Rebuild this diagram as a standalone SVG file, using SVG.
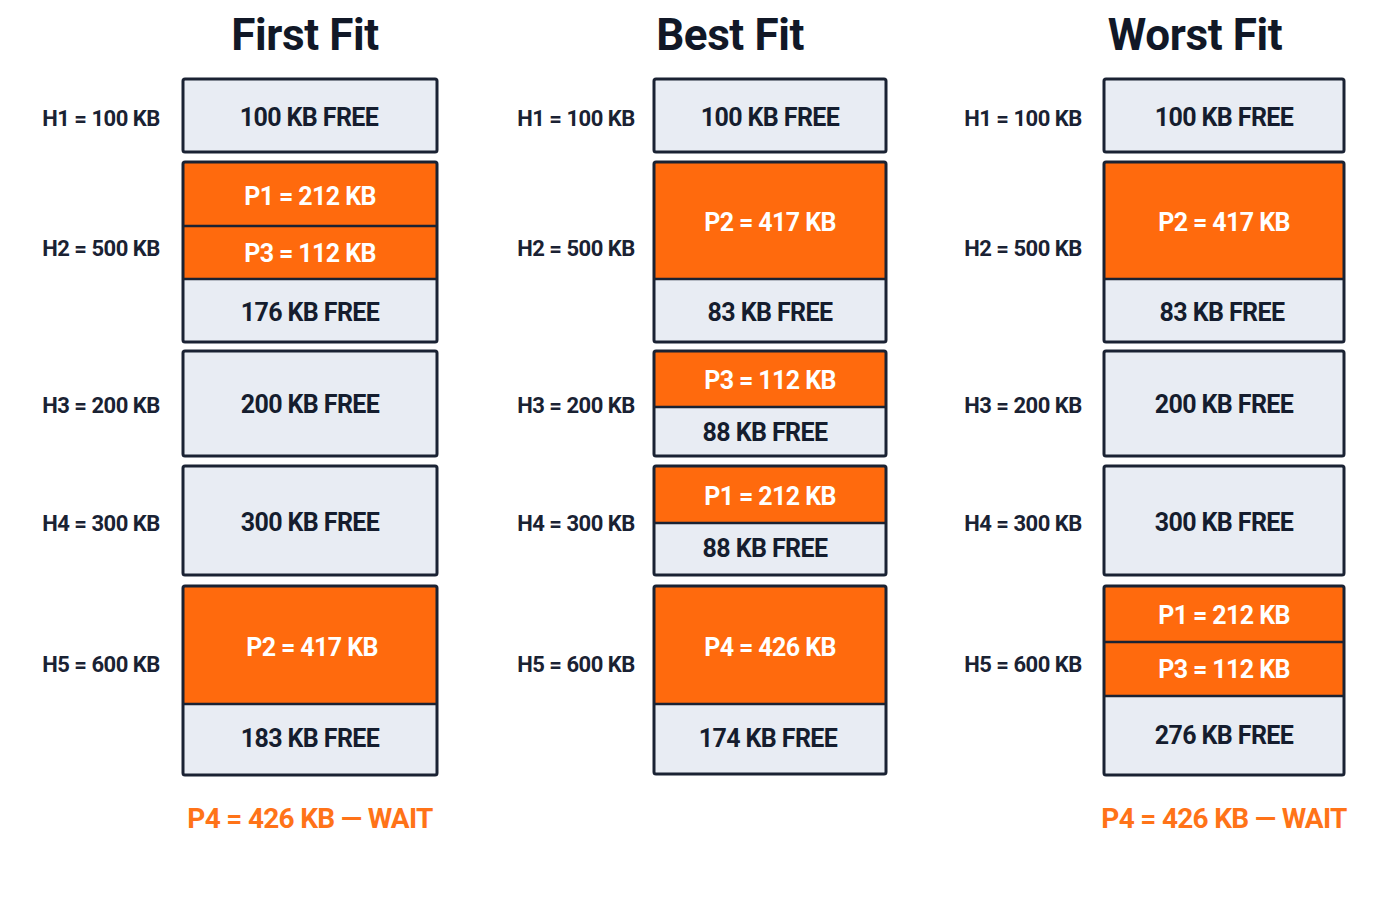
<svg xmlns="http://www.w3.org/2000/svg" width="1400" height="900" viewBox="0 0 1400 900">
<style>
text{font-family:Roboto,"Liberation Sans",sans-serif;font-weight:700;text-anchor:middle;dominant-baseline:central}
.title{font-size:44px;fill:#111827;letter-spacing:-0.4px}
.lbl{font-size:22px;fill:#1a2233;letter-spacing:-0.5px}
.ft{font-size:25px;fill:#151d2e;letter-spacing:-0.6px}
.pt{font-size:25px;fill:#ffffff;letter-spacing:-0.6px}
.wait{font-size:28px;fill:#ff7318;letter-spacing:-0.7px}
.free{fill:#e8ecf3}
.proc{fill:#ff6a0d}
.sep{stroke:#1a2233;stroke-width:2.5}
.frame{fill:none;stroke:#1a2233;stroke-width:3}
</style>
<rect width="1400" height="900" fill="#ffffff"/>
<g id="titles">
<text class="title" x="305" y="35">First Fit</text>
<text class="title" x="730" y="35">Best Fit</text>
<text class="title" x="1195" y="35">Worst Fit</text>
</g>
<g id="labels">
<text class="lbl" x="101" y="118">H1 = 100 KB</text>
<text class="lbl" x="101" y="248">H2 = 500 KB</text>
<text class="lbl" x="101" y="405">H3 = 200 KB</text>
<text class="lbl" x="101" y="523">H4 = 300 KB</text>
<text class="lbl" x="101" y="664">H5 = 600 KB</text>
<text class="lbl" x="576" y="118">H1 = 100 KB</text>
<text class="lbl" x="576" y="248">H2 = 500 KB</text>
<text class="lbl" x="576" y="405">H3 = 200 KB</text>
<text class="lbl" x="576" y="523">H4 = 300 KB</text>
<text class="lbl" x="576" y="664">H5 = 600 KB</text>
<text class="lbl" x="1023" y="118">H1 = 100 KB</text>
<text class="lbl" x="1023" y="248">H2 = 500 KB</text>
<text class="lbl" x="1023" y="405">H3 = 200 KB</text>
<text class="lbl" x="1023" y="523">H4 = 300 KB</text>
<text class="lbl" x="1023" y="664">H5 = 600 KB</text>
</g>
<!-- First Fit -->
<g id="ff-h1"><rect class="free" x="183" y="79" width="254" height="73"/><rect class="frame" x="183" y="79" width="254" height="73" rx="2"/><text class="ft" x="309" y="117">100 KB FREE</text></g>
<g id="ff-h2">
<rect class="proc" x="183" y="162" width="254" height="117"/><rect class="free" x="183" y="279" width="254" height="63"/>
<line class="sep" x1="183" y1="226" x2="437" y2="226"/><line class="sep" x1="183" y1="279" x2="437" y2="279"/>
<rect class="frame" x="183" y="162" width="254" height="180" rx="2"/>
<text class="pt" x="310" y="196">P1 = 212 KB</text><text class="pt" x="310" y="253">P3 = 112 KB</text><text class="ft" x="310" y="312">176 KB FREE</text></g>
<g id="ff-h3"><rect class="free" x="183" y="351" width="254" height="105"/><rect class="frame" x="183" y="351" width="254" height="105" rx="2"/><text class="ft" x="310" y="404">200 KB FREE</text></g>
<g id="ff-h4"><rect class="free" x="183" y="466" width="254" height="109"/><rect class="frame" x="183" y="466" width="254" height="109" rx="2"/><text class="ft" x="310" y="522">300 KB FREE</text></g>
<g id="ff-h5">
<rect class="proc" x="183" y="586" width="254" height="118"/><rect class="free" x="183" y="704" width="254" height="71"/>
<line class="sep" x1="183" y1="704" x2="437" y2="704"/>
<rect class="frame" x="183" y="586" width="254" height="189" rx="2"/>
<text class="pt" x="312" y="647">P2 = 417 KB</text><text class="ft" x="310" y="738">183 KB FREE</text></g>
<g id="ff-wait"><text class="wait" x="310" y="818">P4 = 426 KB — WAIT</text></g>
<!-- Best Fit -->
<g id="bf-h1"><rect class="free" x="654" y="79" width="232" height="73"/><rect class="frame" x="654" y="79" width="232" height="73" rx="2"/><text class="ft" x="770" y="117">100 KB FREE</text></g>
<g id="bf-h2">
<rect class="proc" x="654" y="162" width="232" height="117"/><rect class="free" x="654" y="279" width="232" height="63"/>
<line class="sep" x1="654" y1="279" x2="886" y2="279"/>
<rect class="frame" x="654" y="162" width="232" height="180" rx="2"/>
<text class="pt" x="770" y="222">P2 = 417 KB</text><text class="ft" x="770" y="312">83 KB FREE</text></g>
<g id="bf-h3">
<rect class="proc" x="654" y="351" width="232" height="56"/><rect class="free" x="654" y="407" width="232" height="49"/>
<line class="sep" x1="654" y1="407" x2="886" y2="407"/>
<rect class="frame" x="654" y="351" width="232" height="105" rx="2"/>
<text class="pt" x="770" y="380">P3 = 112 KB</text><text class="ft" x="765" y="432">88 KB FREE</text></g>
<g id="bf-h4">
<rect class="proc" x="654" y="466" width="232" height="57"/><rect class="free" x="654" y="523" width="232" height="52"/>
<line class="sep" x1="654" y1="523" x2="886" y2="523"/>
<rect class="frame" x="654" y="466" width="232" height="109" rx="2"/>
<text class="pt" x="770" y="496">P1 = 212 KB</text><text class="ft" x="765" y="548">88 KB FREE</text></g>
<g id="bf-h5">
<rect class="proc" x="654" y="586" width="232" height="118"/><rect class="free" x="654" y="704" width="232" height="70"/>
<line class="sep" x1="654" y1="704" x2="886" y2="704"/>
<rect class="frame" x="654" y="586" width="232" height="188" rx="2"/>
<text class="pt" x="770" y="647">P4 = 426 KB</text><text class="ft" x="768" y="738">174 KB FREE</text></g>
<!-- Worst Fit -->
<g id="wf-h1"><rect class="free" x="1104" y="79" width="240" height="73"/><rect class="frame" x="1104" y="79" width="240" height="73" rx="2"/><text class="ft" x="1224" y="117">100 KB FREE</text></g>
<g id="wf-h2">
<rect class="proc" x="1104" y="162" width="240" height="117"/><rect class="free" x="1104" y="279" width="240" height="63"/>
<line class="sep" x1="1104" y1="279" x2="1344" y2="279"/>
<rect class="frame" x="1104" y="162" width="240" height="180" rx="2"/>
<text class="pt" x="1224" y="222">P2 = 417 KB</text><text class="ft" x="1222" y="312">83 KB FREE</text></g>
<g id="wf-h3"><rect class="free" x="1104" y="351" width="240" height="105"/><rect class="frame" x="1104" y="351" width="240" height="105" rx="2"/><text class="ft" x="1224" y="404">200 KB FREE</text></g>
<g id="wf-h4"><rect class="free" x="1104" y="466" width="240" height="109"/><rect class="frame" x="1104" y="466" width="240" height="109" rx="2"/><text class="ft" x="1224" y="522">300 KB FREE</text></g>
<g id="wf-h5">
<rect class="proc" x="1104" y="586" width="240" height="110"/><rect class="free" x="1104" y="696" width="240" height="79"/>
<line class="sep" x1="1104" y1="642" x2="1344" y2="642"/><line class="sep" x1="1104" y1="696" x2="1344" y2="696"/>
<rect class="frame" x="1104" y="586" width="240" height="189" rx="2"/>
<text class="pt" x="1224" y="615">P1 = 212 KB</text><text class="pt" x="1224" y="669">P3 = 112 KB</text><text class="ft" x="1224" y="735">276 KB FREE</text></g>
<g id="wf-wait"><text class="wait" x="1224" y="818">P4 = 426 KB — WAIT</text></g>
<g id="connectors"></g>
</svg>
